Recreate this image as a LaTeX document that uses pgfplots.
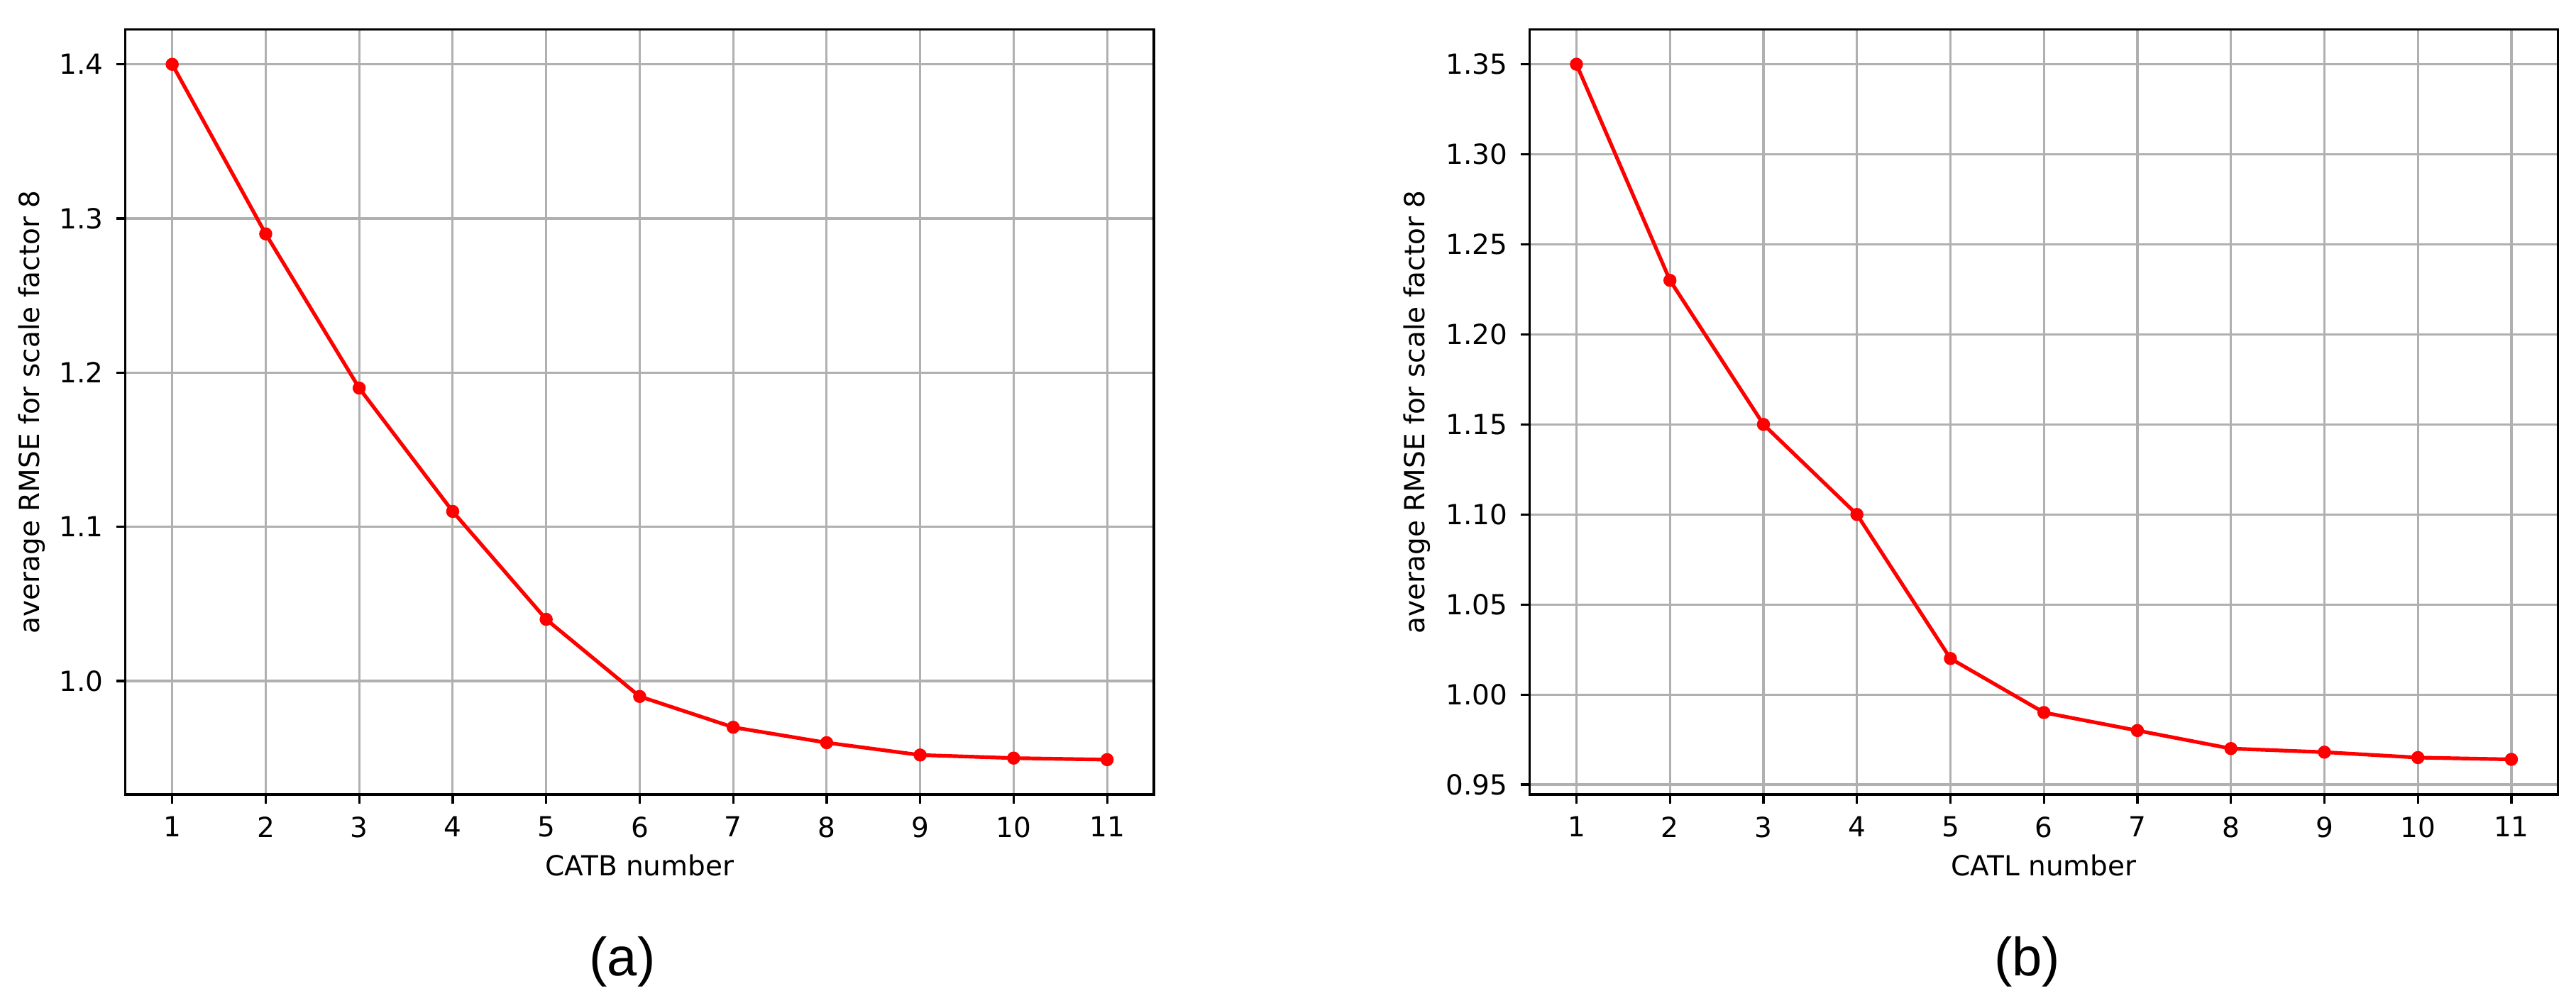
\documentclass[border=0pt]{standalone}
\usepackage{fontspec}
\setmainfont{DejaVu Sans}
\newfontfamily\capfont{Liberation Sans}
\usepackage{pgfplots}
\pgfplotsset{compat=1.18}
\definecolor{gridgray}{HTML}{B0B0B0}
\pgfplotsset{
  mystyle/.style={
    scale only axis,
    width=362.3pt, height=269.6pt,
    xmin=0.5, xmax=11.5,
    xtick={1,2,3,4,5,6,7,8,9,10,11},
    xtick pos=bottom, ytick pos=left,
    tick align=outside,
    major tick length=3.25pt,
    tick style={line width=0.8pt, black},
    axis line style={line width=0.8pt, black},
    grid=major,
    major grid style={line width=0.78pt, gridgray},
    scaled y ticks=false,
    /pgf/number format/assume math mode=true,
    every tick label/.append style={font=\fontsize{9.75}{11.7}\selectfont},
    xticklabel style={yshift=-1pt},
    yticklabel style={xshift=-1pt},
    label style={font=\fontsize{9.75}{11.7}\selectfont},
    xlabel style={at={(axis description cs:0.5,-0.1066)}, anchor=base},
  },
  myline/.style={red, line width=1.3pt, mark=*, mark size=1.65pt, mark options={solid, fill=red, draw=red}},
}
\begin{document}
\begin{tikzpicture}
\path[use as bounding box] (0,0) rectangle (907.5pt,-355.25pt);
\begin{axis}[mystyle,
  at={(44.2pt,-280pt)}, anchor=south west,
  ymin=0.9264, ymax=1.4226,
  ytick={1.0,1.1,1.2,1.3,1.4},
  yticklabel style={/pgf/number format/.cd, fixed, fixed zerofill, precision=1},
  xlabel={CATB number},
  ylabel={average RMSE for scale factor 8},
  ylabel style={at={(axis description cs:-0.0839,0.5)}, anchor=base},
]
\addplot[myline] coordinates {
(1,1.400) (2,1.290) (3,1.190) (4,1.110) (5,1.040) (6,0.990)
(7,0.970) (8,0.960) (9,0.952) (10,0.950) (11,0.949)
};
\end{axis}
\begin{axis}[mystyle,
  at={(538.9pt,-280pt)}, anchor=south west,
  ymin=0.9445, ymax=1.3693,
  ytick={0.95,1.00,1.05,1.10,1.15,1.20,1.25,1.30,1.35},
  yticklabel style={/pgf/number format/.cd, fixed, fixed zerofill, precision=2},
  xlabel={CATL number},
  ylabel={average RMSE for scale factor 8},
  ylabel style={at={(axis description cs:-0.1019,0.5)}, anchor=base},
]
\addplot[myline] coordinates {
(1,1.350) (2,1.230) (3,1.150) (4,1.100) (5,1.020) (6,0.990)
(7,0.980) (8,0.970) (9,0.968) (10,0.965) (11,0.964)
};
\end{axis}
\node[font=\capfont\fontsize{19}{22}\selectfont, anchor=base] at (219.25pt,-343.75pt) {(a)};
\node[font=\capfont\fontsize{19}{22}\selectfont, anchor=base] at (714.2pt,-343.75pt) {(b)};
\end{tikzpicture}
\end{document}
